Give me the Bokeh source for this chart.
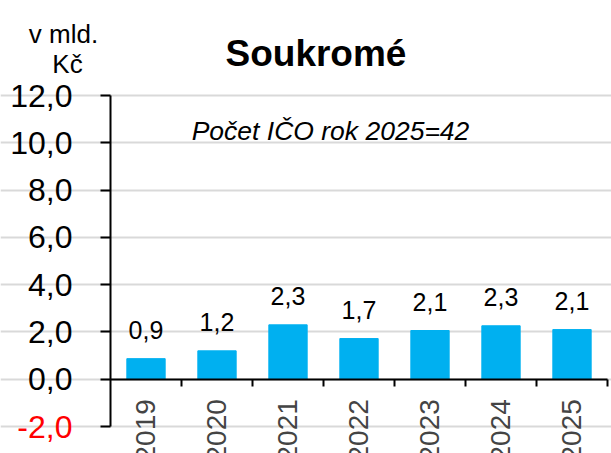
import math
from bokeh.plotting import figure
from bokeh.models import FixedTicker, LinearAxis, Range1d, Label, ColumnDataSource, Grid
from bokeh.core.properties import value
from bokeh.embed import file_html
from bokeh.resources import INLINE

years = ["2019", "2020", "2021", "2022", "2023", "2024", "2025"]
values = [0.87, 1.2, 2.3, 1.72, 2.06, 2.26, 2.1]
value_labels = ["0,9", "1,2", "2,3", "1,7", "2,1", "2,3", "2,1"]
y_ticks = [-2, 0, 2, 4, 6, 8, 10, 12]
y_tick_labels = ["-2,0", "0,0", "2,0", "4,0", "6,0", "8,0", "10,0", "12,0"]
title_text = "Soukromé"
unit_lines = ["v mld.", "Kč"]
note_text = "Počet IČO rok 2025=42"

FONT = "Liberation Sans"
W, H = 611, 453
BAR = "#00B0F0"
GRID = "#d9d9d9"

n = len(years)
centers = [i + 0.5 for i in range(n)]
bounds = [i + 1 for i in range(n)]

# layout in pixels (canvas coordinates)
AX_X, RIGHT_X = 110, 607          # y-axis line and right end of x-axis
TOP_Y, BOT_Y = 95, 426            # y of top tick and bottom tick
xs = (RIGHT_X - AX_X) / n
ys = (BOT_Y - TOP_Y) / (y_ticks[-1] - y_ticks[0])
x_range = Range1d(-AX_X / xs, n + (W - RIGHT_X) / xs)
y_range = Range1d(y_ticks[0] - (H - BOT_Y) / ys, y_ticks[-1] + TOP_Y / ys)

p = figure(width=W, height=H, output_backend="svg", toolbar_location=None,
           x_range=x_range, y_range=y_range,
           x_axis_location=None, y_axis_location=None,
           min_border_left=0, min_border_right=0, min_border_top=0, min_border_bottom=0)
p.outline_line_color = None
p.background_fill_color = "white"
p.border_fill_color = "white"
for g in p.grid:
    g.visible = False

grid = Grid(dimension=1, ticker=FixedTicker(ticks=y_ticks), bounds=(0, n),
            grid_line_color=GRID, grid_line_width=2)
p.add_layout(grid)

# y axis
ya = LinearAxis(fixed_location=0, ticker=FixedTicker(ticks=y_ticks), bounds=(y_ticks[0], y_ticks[-1]))
ya.major_label_overrides = {t: (lab if t >= 0 else " ") for t, lab in zip(y_ticks, y_tick_labels)}
ya.major_label_text_font = FONT
ya.major_label_text_font_size = "32px"
ya.major_label_text_color = "black"
ya.major_tick_out = 10
ya.major_tick_in = 0
ya.minor_tick_out = 0
ya.minor_tick_in = 0
ya.major_label_standoff = 28
ya.axis_line_color = "black"
ya.axis_line_width = 2
ya.major_tick_line_width = 2
ya.major_tick_line_color = "black"
p.add_layout(ya, "left")

# red negative tick label
for t, lab in zip(y_ticks, y_tick_labels):
    if t < 0:
        p.add_layout(Label(x=0, y=t, x_units="data", y_units="data", text=lab,
                           x_offset=-38, text_align="right", text_baseline="middle",
                           text_font=FONT, text_font_size="32px", text_color="red"))

# bars
src = ColumnDataSource(dict(x=centers, top=values, lab=value_labels))
p.vbar(x="x", top="top", bottom=0, width=0.54, source=src, fill_color=BAR, line_color=BAR)
p.text(x="x", y="top", text="lab", source=src, text_align="center", text_baseline="alphabetic",
       y_offset=-29, text_font=value(FONT), text_font_size="25px", text_color="black")

# x axis with boundary ticks
xa1 = LinearAxis(fixed_location=0, ticker=FixedTicker(ticks=bounds), bounds=(0, n))
xa1.major_label_text_font_size = "0px"
xa1.major_label_text_color = None
xa1.major_tick_out = 7
xa1.major_tick_in = 0
xa1.minor_tick_out = 0
xa1.minor_tick_in = 0
xa1.axis_line_color = "black"
xa1.axis_line_width = 2
xa1.major_tick_line_width = 2
p.add_layout(xa1, "below")

# x axis with year labels
xa2 = LinearAxis(fixed_location=0, ticker=FixedTicker(ticks=centers))
xa2.major_label_overrides = {c: y for c, y in zip(centers, years)}
xa2.major_label_orientation = math.pi / 2
xa2.major_label_text_font = FONT
xa2.major_label_text_font_size = "28px"
xa2.major_label_standoff = 20
xa2.major_tick_out = 0
xa2.major_tick_in = 0
xa2.minor_tick_out = 0
xa2.minor_tick_in = 0
xa2.axis_line_color = None
xa2.major_tick_line_color = None
p.add_layout(xa2, "below")

# texts
p.add_layout(Label(x=225, y=53, x_units="canvas", y_units="canvas", text=title_text,
                   text_align="left", text_baseline="alphabetic", text_font=FONT,
                   text_font_size="37px", text_font_style="bold", text_color="black"))
p.add_layout(Label(x=63, y=33, x_units="canvas", y_units="canvas", text=unit_lines[0],
                   text_align="center", text_baseline="alphabetic", text_font=FONT,
                   text_font_size="26px", text_color="black"))
p.add_layout(Label(x=67, y=63, x_units="canvas", y_units="canvas", text=unit_lines[1],
                   text_align="center", text_baseline="alphabetic", text_font=FONT,
                   text_font_size="26px", text_color="black"))
p.add_layout(Label(x=330, y=130, x_units="canvas", y_units="canvas", text=note_text,
                   text_align="center", text_baseline="alphabetic", text_font=FONT,
                   text_font_size="26.5px", text_font_style="italic", text_color="black"))

open("out.html", "w").write(file_html(p, INLINE))
